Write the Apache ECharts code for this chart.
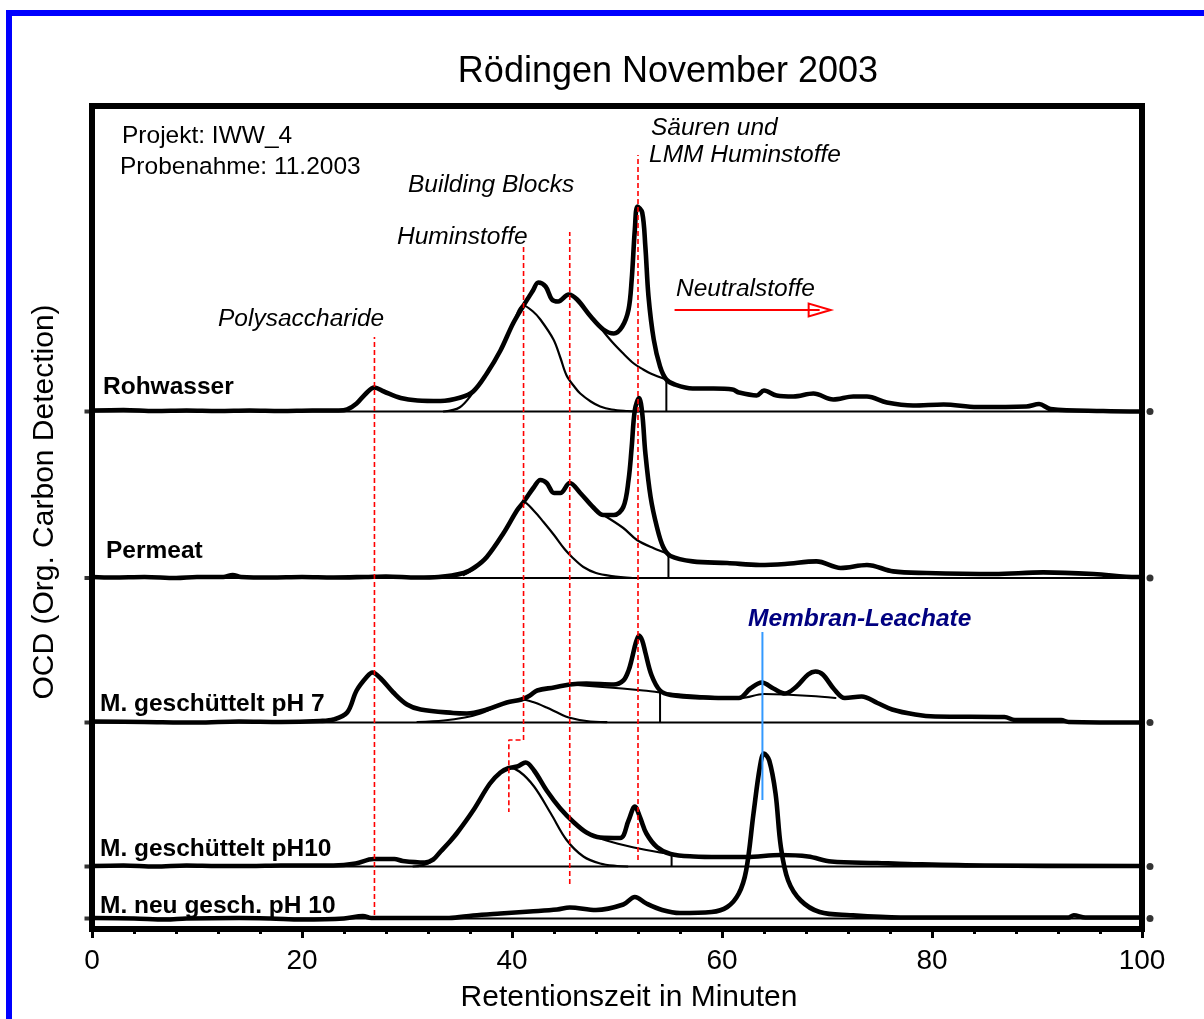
<!DOCTYPE html>
<html>
<head>
<meta charset="utf-8">
<script src="https://cdn.jsdelivr.net/npm/echarts@6/dist/echarts.min.js"></script>
<style>
  html, body { margin: 0; padding: 0; background: #fff; }
  #chart { width: 1204px; height: 1019px; }
</style>
</head>
<body>
<div id="chart"></div>
<script>
// SEC-OCD chromatograms, Rödingen, November 2003 (stacked traces)
const FONT = "'Liberation Sans', Arial, Helvetica, sans-serif";

// x axis (retention time, minutes)
const xTicks = [0, 20, 40, 60, 80, 100];

// sample names and the vertical offset of each trace's baseline (signal units)
const sampleNames = ['Rohwasser', 'Permeat', 'M. geschüttelt pH 7', 'M. geschüttelt pH10', 'M. neu gesch. pH 10'];
const baselines = [517.5, 351, 206.5, 62.5, 10.5];

// measured OCD signal above baseline: [minute, signal]
const rohwasser = [[0,1],[3,1.5],[6,0.5],[9,1],[12,0.5],[15,1],[18,0.5],[21,1],[23.5,1],[24.3,2],[25.2,8],[26.0,17],[26.9,24],[27.8,20],[29.4,13.5],[31.0,11],[33.2,10.5],[35.1,14],[36.3,20],[37.6,38],[38.9,61],[40.1,88],[41.1,106],[42.0,121],[42.5,129],[43.2,125],[43.8,112],[44.4,110],[45.4,117],[46.2,112],[47.5,95],[48.7,82],[49.7,78],[50.5,85],[51.1,102],[51.4,132],[51.7,182],[51.95,205],[52.4,199],[52.7,165],[53.0,115],[53.5,72],[54.1,45],[54.7,32],[55.5,27],[57.2,23],[59.2,23],[61.0,22],[61.6,19],[63.3,16],[64.0,21],[65.2,16],[66.8,15],[68.7,18],[70.6,12],[72.5,15],[73.8,15],[75.7,9],[78.2,6],[81.1,7],[84.3,4.5],[89.0,5],[90.2,7.5],[91.3,2.5],[96.3,0.5],[100,0]];
const permeat = [[0,1],[2,0.5],[5,1],[8,0],[10,1],[12.5,1],[13.4,3],[14.2,1],[17,0.5],[20,1],[23,0.5],[26,1],[28,1.5],[31,0.5],[33,1],[35.4,5],[36.5,11],[37.6,21],[39.2,45],[40.5,68],[41.1,76],[42.1,91],[42.7,98],[43.3,95],[44.0,85],[44.6,85],[45.5,95],[46.5,85],[47.8,70],[48.7,63],[49.7,63],[50.6,71],[51.1,98],[51.4,131],[51.7,168],[52.1,180],[52.4,165],[52.7,125],[53.2,81],[53.8,51],[54.4,31],[55.1,22],[57.2,16.6],[60.5,15],[63.6,13],[66,14],[69.0,16.6],[71.3,10],[73.8,13],[76.3,6.6],[79.5,5],[85.9,4],[90.6,5.6],[95.4,4],[99.5,1],[100,1]];
const geschPH7 = [[0,1],[5,0.5],[10,0],[14,1],[18,0.5],[21.7,1.5],[23.0,3],[24.3,10],[25.2,32],[26.2,46],[26.7,50],[27.5,44],[28.7,30],[30.0,18],[31.3,13],[34.4,9.5],[35.7,9],[37.6,13],[39.5,20],[40.9,23],[41.7,27],[42.4,32],[44.0,35],[45.5,38],[47.1,39],[49.7,38],[50.6,42],[51.1,52],[51.4,63],[51.8,80],[52.1,87],[52.4,82],[52.7,70],[53.3,47],[54.1,32],[55.1,27.5],[58.2,25],[61.6,24.5],[62.7,34],[63.8,40],[64.9,34],[66.0,29],[67.1,36],[68.2,48],[68.9,51],[69.6,48],[70.7,33],[71.7,24.5],[73.3,26],[74.8,19.5],[76.2,13],[78.4,8],[80.3,6],[86.9,5.5],[87.9,2.5],[92.3,2.5],[93,0.5],[100,0]];
const geschPH10 = [[0,0.5],[3,1],[6,0],[9,1],[12,0.5],[15,0.5],[18,1],[21,1],[23,1],[25.1,3],[26.8,7.5],[28.8,7.5],[29.6,5.5],[31.7,4],[32.5,7],[33.2,15],[34.0,24],[34.8,34],[36.3,56],[37.9,83],[38.9,94],[39.7,98.5],[40.5,100],[41.3,104],[42.1,96],[43.3,76],[44.6,58],[45.9,44],[47.1,34],[48.4,29],[50.3,28.5],[51.1,46],[51.7,60],[52.2,49],[52.8,33],[53.8,19.5],[55.1,12.5],[57.3,10],[59.8,9.5],[62.3,9.5],[65.6,11.5],[68.2,10],[70.4,5],[74.8,3.5],[77.7,2.5],[85,1],[100,0.5]];
const neuPH10 = [[0,0.5],[4,0],[7,-1],[9,0],[14,0.5],[17,0],[20,-1],[24,0],[25.8,2.5],[26.6,0.5],[34,0.5],[36.3,3],[38.9,5],[41.7,7],[44.3,9],[45.5,11],[48.0,8.5],[50.6,14],[51.7,21.5],[52.8,15],[54.3,8.5],[56.0,5.5],[59.0,6.5],[60.5,11.5],[61.6,25],[62.3,48],[63.0,105],[63.6,151],[64.0,165],[64.5,158],[65.1,125],[65.6,72],[66.3,38],[67.5,18],[69.3,6.5],[72.2,3.3],[77.0,1],[85,1],[93.0,1],[93.5,3.3],[94.6,1],[100,1]];

// fitted fractions (thin lines): humic peak, building-block tail, cut at the LMM fraction
const rohHumic = [[33.5,0],[35,4],[36.3,19],[37.6,38],[38.9,61],[40.1,88],[41.1,106],[42.0,100],[42.7,92],[43.95,72],[44.6,54],[45.2,36],[46.0,24],[46.5,18],[47.5,10],[48.4,5],[49.5,2],[51,0.5],[52,0]];
const rohTail = [[48.4,84],[49.5,70],[50.5,59],[51.6,48],[52.5,42],[53.2,38],[54.7,32]];
const rohCut = [[54.7,0],[54.7,32]];
const permHumic = [[35.4,3],[36.5,10],[37.6,21],[39.2,45],[40.5,68],[41.1,76],[42.1,67],[43.0,56],[44.0,43],[45.0,29],[45.8,20],[46.8,11],[48.0,5],[49.5,2],[51.5,0]];
const permTail = [[48.7,63],[50.6,50],[51.9,38],[53.5,29.7],[54.9,24]];
const permCut = [[54.9,0],[54.9,24]];
const ph7Humic = [[31,0.5],[33.5,2],[35.5,5],[37,9],[38.5,16],[39.5,20],[40.9,23],[42.0,20.5],[43.3,15],[44.5,9],[45.4,5],[47.1,1.5],[49,0.3]];
const ph7Tail = [[45.6,38],[48,36],[50.5,34],[52.5,32],[54.1,30]];
const ph7Cut = [[54.1,0],[54.1,30]];
const ph7Base = [[54.1,30],[58,26.5],[61.8,24.5],[64.0,28.5],[66.0,28],[68.5,26.5],[70.8,24.5]];
const ph10Humic = [[30.6,0],[32.0,3],[33.2,14],[34.0,24],[34.8,34],[36.3,56],[37.9,82],[38.9,94],[39.7,98.5],[40.7,95],[42.1,80],[43.7,53],[45.2,26.5],[46.8,10],[48.4,3],[50,0.5],[51,0]];
const ph10Tail = [[47.1,34],[49.0,26],[51.6,19],[54.1,14],[55.2,12.5]];
const ph10Cut = [[55.2,0],[55.2,12.5]];

// fraction markers in absolute signal units
const polysaccharideMark = [[26.9,14],[26.9,592]];
const huminMark = [[41.1,682],[41.1,189],[39.7,189],[39.7,117]];
const buildingBlockMark = [[45.5,45],[45.5,697]];
const acidsMark = [[52.0,69],[52.0,774]];
const leachateMark = [[63.85,129],[63.85,297]];
const neutralArrow = [[55.5,619],[69.3,619]];

const chart = echarts.init(document.getElementById('chart'), null, { renderer: 'canvas' });

const shift = (pts, off) => pts.map(p => [p[0], p[1] + off]);

function curve(name, pts, off, width) {
  return {
    name, type: 'line', data: shift(pts, off), showSymbol: false, symbol: 'none',
    smooth: 0.35, clip: false, silent: true,
    lineStyle: { color: '#000', width, cap: 'round', join: 'round' }, z: width > 3 ? 4 : 3
  };
}
function straight(name, pts, color, width, type) {
  return {
    name, type: 'line', data: pts, showSymbol: false, symbol: 'none', clip: false, silent: true,
    lineStyle: { color, width, type: type || 'solid' }, z: 5
  };
}

const series = [];
// baselines of every trace
baselines.forEach((b, i) => series.push(straight('base' + i, [[0, b], [100, b]], '#000', 2)));
// fitted fractions
series.push(curve('rohHumic', rohHumic, baselines[0], 2.2));
series.push(curve('rohTail', rohTail, baselines[0], 2.2));
series.push(straight('rohCut', shift(rohCut, baselines[0]), '#000', 2));
series.push(curve('permHumic', permHumic, baselines[1], 2.2));
series.push(curve('permTail', permTail, baselines[1], 2.2));
series.push(straight('permCut', shift(permCut, baselines[1]), '#000', 2));
series.push(curve('ph7Humic', ph7Humic, baselines[2], 2.2));
series.push(curve('ph7Tail', ph7Tail, baselines[2], 2.2));
series.push(straight('ph7Cut', shift(ph7Cut, baselines[2]), '#000', 2));
series.push(curve('ph7Base', ph7Base, baselines[2], 2.2));
series.push(curve('ph10Humic', ph10Humic, baselines[3], 2.2));
series.push(curve('ph10Tail', ph10Tail, baselines[3], 2.2));
series.push(straight('ph10Cut', shift(ph10Cut, baselines[3]), '#000', 2));
// measured chromatograms
[rohwasser, permeat, geschPH7, geschPH10, neuPH10].forEach((d, i) =>
  series.push(curve(sampleNames[i], d, baselines[i], 4.6)));
// fraction markers
[polysaccharideMark, huminMark, buildingBlockMark, acidsMark].forEach((m, i) =>
  series.push(straight('mark' + i, m, '#ff0000', 1.6, [5, 3])));
series.push(straight('leachate', leachateMark, '#3399ff', 2));
// neutral fraction arrow
series.push({
  name: 'neutral', type: 'line', data: neutralArrow, showSymbol: false, symbol: 'none', clip: false, silent: true,
  lineStyle: { color: '#ff0000', width: 2 }, z: 5,
  markLine: {
    silent: true, symbol: ['none', 'emptyTriangle'], symbolSize: [13, 22],
    label: { show: false }, lineStyle: { color: '#ff0000', width: 2, type: 'solid' },
    data: [[{ coord: neutralArrow[0] }, { coord: neutralArrow[1] }]]
  }
});
// baseline markers on both sides of the frame
series.push({
  type: 'scatter', data: baselines.map(b => [0, b]), symbol: 'rect', symbolSize: [9, 4],
  symbolOffset: [-3, 0], clip: false, silent: true, itemStyle: { color: '#000' }, z: 6
});
series.push({
  type: 'scatter', data: baselines.map(b => [100, b]), symbol: 'circle', symbolSize: 7,
  symbolOffset: [8, 0], clip: false, silent: true, itemStyle: { color: '#000' }, z: 6
});

const txt = (text, x, y, font, fill, extra) => ({
  type: 'text', z: 20, silent: true,
  style: Object.assign({ text, x, y, font, fill: fill || '#000', verticalAlign: 'middle', align: 'left' }, extra || {})
});
const F = 24.5;

const graphic = [
  { type: 'rect', z: 30, silent: true, shape: { x: 9, y: 13, width: 1400, height: 1200 },
    style: { fill: 'none', stroke: '#0000ff', lineWidth: 6 } },
  txt('Rödingen November 2003', 668, 72, `36px ${FONT}`, '#000', { align: 'center' }),
  txt('Retentionszeit in Minuten', 629, 998, `30px ${FONT}`, '#000', { align: 'center' }),
  { type: 'text', z: 20, silent: true, x: 45, y: 502, rotation: Math.PI / 2,
    style: { text: 'OCD (Org. Carbon Detection)', font: `30px ${FONT}`, fill: '#000', align: 'center', verticalAlign: 'middle' } },
  txt('Projekt: IWW_4', 122, 136, `${F}px ${FONT}`),
  txt('Probenahme: 11.2003', 120, 167, `${F}px ${FONT}`),
  txt('Säuren und', 651, 128, `italic ${F}px ${FONT}`),
  txt('LMM Huminstoffe', 649, 155, `italic ${F}px ${FONT}`),
  txt('Building Blocks', 408, 185, `italic ${F}px ${FONT}`),
  txt('Huminstoffe', 397, 237, `italic ${F}px ${FONT}`),
  txt('Polysaccharide', 218, 319, `italic ${F}px ${FONT}`),
  txt('Neutralstoffe', 676, 289, `italic ${F}px ${FONT}`),
  txt('Membran-Leachate', 748, 619, `italic bold ${F}px ${FONT}`, '#000080'),
  txt(sampleNames[0], 103, 387, `bold ${F}px ${FONT}`),
  txt(sampleNames[1], 106, 551, `bold ${F}px ${FONT}`),
  txt(sampleNames[2], 100, 704, `bold ${F}px ${FONT}`),
  txt(sampleNames[3], 100, 849, `bold ${F}px ${FONT}`),
  txt(sampleNames[4], 100, 906, `bold ${F}px ${FONT}`)
];

chart.setOption({
  animation: false,
  backgroundColor: '#fff',
  grid: { left: 92, right: 62, top: 106, bottom: 90, show: true, borderColor: '#000', borderWidth: 6, backgroundColor: 'transparent' },
  xAxis: {
    type: 'value', min: xTicks[0], max: xTicks[xTicks.length - 1], interval: 20,
    axisLine: { show: true, lineStyle: { color: '#000', width: 6 } },
    axisTick: { show: true, inside: false, length: 9, lineStyle: { color: '#000', width: 3 } },
    minorTick: { show: true, splitNumber: 5, length: 5, lineStyle: { color: '#000', width: 3 } },
    splitLine: { show: false },
    axisLabel: { color: '#000', fontSize: 28, fontFamily: FONT, margin: 18 }
  },
  yAxis: {
    type: 'value', min: 0, max: 823, show: false, splitLine: { show: false }
  },
  series,
  graphic
});
</script>
</body>
</html>
